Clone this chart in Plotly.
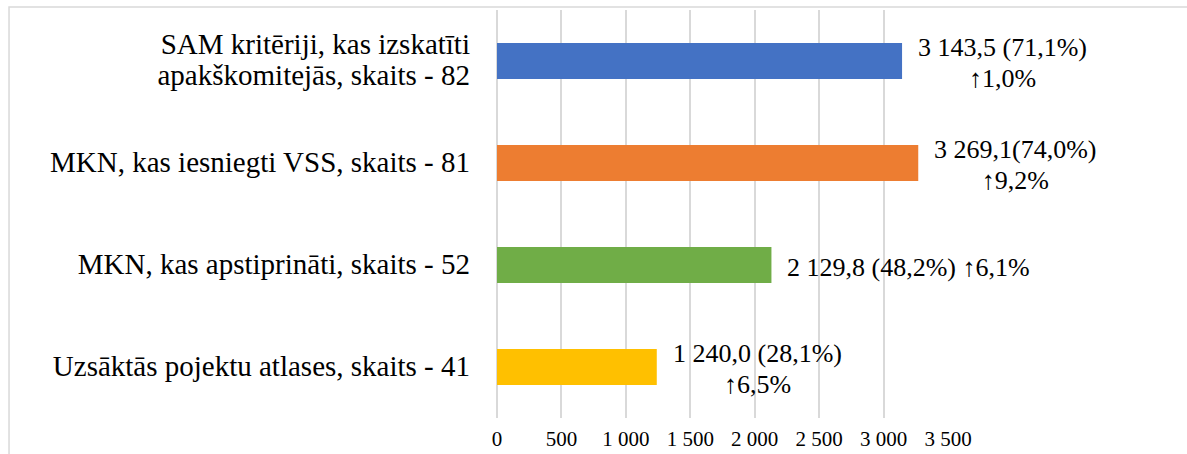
import plotly.graph_objects as go

# Data (bottom to top)
categories = [
    "Uzsāktās pojektu atlases, skaits - 41",
    "MKN, kas apstiprināti, skaits - 52",
    "MKN, kas iesniegti VSS, skaits - 81",
    "SAM kritēriji, kas izskatīti<br>apakškomitejās, skaits - 82",
]
values = [1240.0, 2129.8, 3269.1, 3143.5]
labels = [
    "1 240,0 (28,1%)<br>↑6,5%",
    "2 129,8 (48,2%) ↑6,1%",
    "3 269,1(74,0%)<br>↑9,2%",
    "3 143,5 (71,1%)<br>↑1,0%",
]
colors = ["#FFC000", "#70AD47", "#ED7D31", "#4472C4"]
tick_vals = [0, 500, 1000, 1500, 2000, 2500, 3000, 3500]
tick_text = ["0", "500", "1 000", "1 500", "2 000", "2 500", "3 000", "3 500"]

FONT = "Liberation Serif"


def sized(text, px):
    # wrap each line so glyphs are larger than the base line spacing
    return "<br>".join(f'<span style="font-size:{px}px">{ln}</span>' for ln in text.split("<br>"))


fig = go.Figure(
    go.Bar(
        x=values,
        y=categories,
        orientation="h",
        marker=dict(color=colors, line=dict(width=0)),
        hoverinfo="skip",
    )
)

for v, c, t in zip(values, categories, labels):
    fig.add_annotation(
        x=v, y=c, text=sized(t, 26), showarrow=False,
        xanchor="left", yanchor="middle", xshift=14, yshift=-2, align="center",
        font=dict(family=FONT, size=24, color="#000000"),
    )

# outer frame (top and left edges visible)
fig.add_shape(
    type="rect", xref="paper", yref="paper",
    x0=-1.082, x1=1.8, y0=-0.5, y1=1.0074,
    line=dict(color="#D9D9D9", width=1.5), layer="below",
)

fig.update_layout(
    width=1187, height=454,
    margin=dict(l=497, r=239, t=10, b=36, pad=0),
    paper_bgcolor="white", plot_bgcolor="white",
    bargap=0.646,
    showlegend=False,
    font=dict(family=FONT, color="#000000"),
)
fig.update_xaxes(
    range=[0, 3500], tickvals=tick_vals, ticktext=tick_text,
    showgrid=True, gridcolor="#D9D9D9", gridwidth=1.5,
    zeroline=True, zerolinecolor="#D9D9D9", zerolinewidth=1.5,
    showline=False, ticks="", ticklabelstandoff=6, automargin=False,
    tickfont=dict(family=FONT, size=21, color="#000000"),
)
fig.update_yaxes(
    tickvals=categories, ticktext=[sized(c, 29) for c in categories],
    showgrid=False, zeroline=False, showline=False, ticks="",
    ticklabelstandoff=26, automargin=False,
    tickfont=dict(family=FONT, size=24.5, color="#000000"),
)

fig.write_html(
    "out.html",
    config={"displayModeBar": False},
    post_script="document.body.style.margin='0px';",
)
